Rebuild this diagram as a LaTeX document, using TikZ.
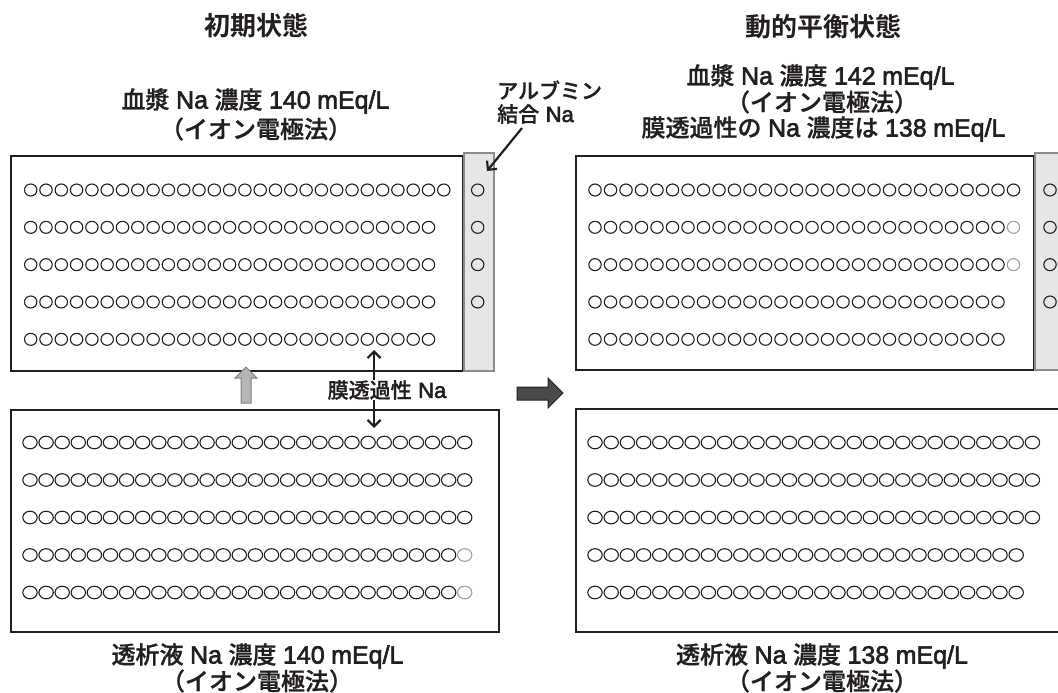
\documentclass[tikz,border=0pt]{standalone}
\usepackage{fontspec}
\setmainfont{Noto Sans CJK JP}[UprightFont=* Medium, BoldFont=* Bold]
\newfontfamily\labfont{Noto Sans CJK JP}[UprightFont=* Medium, FakeBold=1]
\newfontfamily\latfont{Liberation Sans}[FakeBold=2.5]
\newcommand\latn[1]{{\latfont\fontsize{25}{28}\selectfont #1}}
\newcommand\latsm[1]{{\latfont\fontsize{22}{25}\selectfont #1}}
\newcommand\gap{\hspace{6.5pt}}
\usetikzlibrary{arrows.meta}
\definecolor{ink}{HTML}{231F20}
\definecolor{stripfill}{HTML}{E6E6E7}
\definecolor{stripdraw}{HTML}{8C8C8E}
\definecolor{graycirc}{HTML}{A0A0A0}
\definecolor{grayarrow}{HTML}{B5B5B7}
\definecolor{grayarrowbd}{HTML}{808082}
\definecolor{darkarrow}{HTML}{4A4A4A}
\tikzset{
 box/.style={draw=ink, line width=2.4pt, inner sep=0pt, anchor=north west},
 strip/.style={draw=stripdraw, fill=stripfill, line width=2.4pt, inner sep=0pt, anchor=north west},
 head/.style={font=\fontsize{26}{30}\selectfont\bfseries, text=ink, inner sep=0pt},
 lab/.style={font=\labfont\fontsize{24}{28}\selectfont, text=ink, inner sep=0pt},
 labsm/.style={font=\labfont\fontsize{21}{24}\selectfont, text=ink, inner sep=0pt},
 na/.style={draw=ink, line width=1.1pt},
 nag/.style={draw=graycirc, line width=1.1pt},
 arr/.style={draw=ink, line width=2.2pt, -{Straight Barb[length=6.5pt,width=13pt]}},
}
\begin{document}
\begin{tikzpicture}[x=1pt,y=-1pt]
\useasboundingbox (0,0) rectangle (1058,693);
\clip (0,0) rectangle (1058,693);

% boxes
\node[box, minimum width=452pt, minimum height=215pt] (tl) at (10,155) {};
\node[strip, minimum width=30pt, minimum height=218pt] (tls) at (463,152) {};
\node[box, minimum width=488pt, minimum height=222pt] (bl) at (10,409) {};
\node[box, minimum width=458pt, minimum height=214pt] (tr) at (575,155) {};
\node[strip, minimum width=40pt, minimum height=217pt] (trs) at (1034,152) {};
\node[box, minimum width=510pt, minimum height=223pt] (br) at (575,408) {};

% top-left circles
\foreach \i in {0,...,27} \draw[na] (30.7+\i*15.3,190) ellipse [x radius=6.2pt, y radius=6pt];
\foreach \r in {1,...,4}
  \foreach \i in {0,...,26} \draw[na] (30.7+\i*15.3,190+\r*37.33) ellipse [x radius=6.2pt, y radius=6pt];
\foreach \r in {0,...,3} \draw[na] (477.7,190+\r*37.33) ellipse [x radius=6.2pt, y radius=6pt];

% bottom-left circles
\foreach \r in {0,...,2}
  \foreach \i in {0,...,27} \draw[na] (30+\i*16.1,442.5+\r*37.5) ellipse [x radius=7.2pt, y radius=6.3pt];
\foreach \r in {3,4}{
  \foreach \i in {0,...,26} \draw[na] (30+\i*16.1,442.5+\r*37.5) ellipse [x radius=7.2pt, y radius=6.3pt];
  \draw[nag] (30+27*16.1,442.5+\r*37.5) ellipse [x radius=7.2pt, y radius=6.3pt];
}

% top-right circles
\foreach \i in {0,...,27} \draw[na] (595+\i*15.5,190) ellipse [x radius=6.2pt, y radius=6pt];
\foreach \r in {1,2}{
  \foreach \i in {0,...,26} \draw[na] (595+\i*15.5,190+\r*37.33) ellipse [x radius=6.2pt, y radius=6pt];
  \draw[nag] (595+27*15.5,190+\r*37.33) ellipse [x radius=6.2pt, y radius=6pt];
}
\foreach \r in {3,4}
  \foreach \i in {0,...,26} \draw[na] (595+\i*15.5,190+\r*37.33) ellipse [x radius=6.2pt, y radius=6pt];
\foreach \r in {0,...,3} \draw[na] (1050,190+\r*37.33) ellipse [x radius=6.2pt, y radius=6pt];

% bottom-right circles
\foreach \r in {0,...,2}
  \foreach \i in {0,...,27} \draw[na] (595+\i*16.2,442.5+\r*37.5) ellipse [x radius=7.2pt, y radius=6.3pt];
\foreach \r in {3,4}
  \foreach \i in {0,...,26} \draw[na] (595+\i*16.2,442.5+\r*37.5) ellipse [x radius=7.2pt, y radius=6.3pt];

% headings and labels
\node[head] (h1) at (256,26) {初期状態};
\node[head] (h2) at (823,27) {動的平衡状態};
\node[lab] (p1a) at (255.5,101) {血漿\gap{}\latn{Na}\gap{}濃度\gap{}\latn{140}\gap{}\latn{mEq/L}};
\node[lab] (p1b) at (256,129) {（イオン電極法）};
\node[labsm, anchor=west] (alb1) at (497,90) {アルブミン};
\node[labsm, anchor=west] (alb2) at (497,114) {結合\gap{}\latsm{Na}};
\node[lab] (p2a) at (820.5,77) {血漿\gap{}\latn{Na}\gap{}濃度\gap{}\latn{142}\gap{}\latn{mEq/L}};
\node[lab] (p2b) at (822,102) {（イオン電極法）};
\node[lab] (p2c) at (823.5,129) {膜透過性の\gap{}\latn{Na}\gap{}濃度は\gap{}\latn{138}\gap{}\latn{mEq/L}};
\node[labsm] (mem) at (387,390) {膜透過性\gap{}\latsm{Na}};
\node[lab] (d1a) at (257.5,656) {透析液\gap{}\latn{Na}\gap{}濃度\gap{}\latn{140}\gap{}\latn{mEq/L}};
\node[lab] (d1b) at (257,681) {（イオン電極法）};
\node[lab] (d2a) at (822,656) {透析液\gap{}\latn{Na}\gap{}濃度\gap{}\latn{138}\gap{}\latn{mEq/L}};
\node[lab] (d2b) at (822,681) {（イオン電極法）};

% arrows
\coordinate (upTip) at (374,350);
\coordinate (dnTip) at (374,428);
\draw[arr] (mem.north -| upTip) -- (upTip);
\draw[arr] (mem.south -| dnTip) -- (dnTip);
\coordinate (albStart) at (522,128);
\coordinate (albTip) at (487,171);
\draw[arr] (albStart) -- (albTip);

% block arrows
\draw[fill=grayarrow, draw=grayarrowbd, line width=1pt]
  (241,403) -- (241,378) -- (235,378) -- (246,367) -- (257,378) -- (251,378) -- (251,403) -- cycle;
\draw[fill=darkarrow, draw=ink, line width=1pt]
  (517,387) -- (548,387) -- (548,378) -- (563,393) -- (548,408) -- (548,400) -- (517,400) -- cycle;
\end{tikzpicture}
\end{document}
